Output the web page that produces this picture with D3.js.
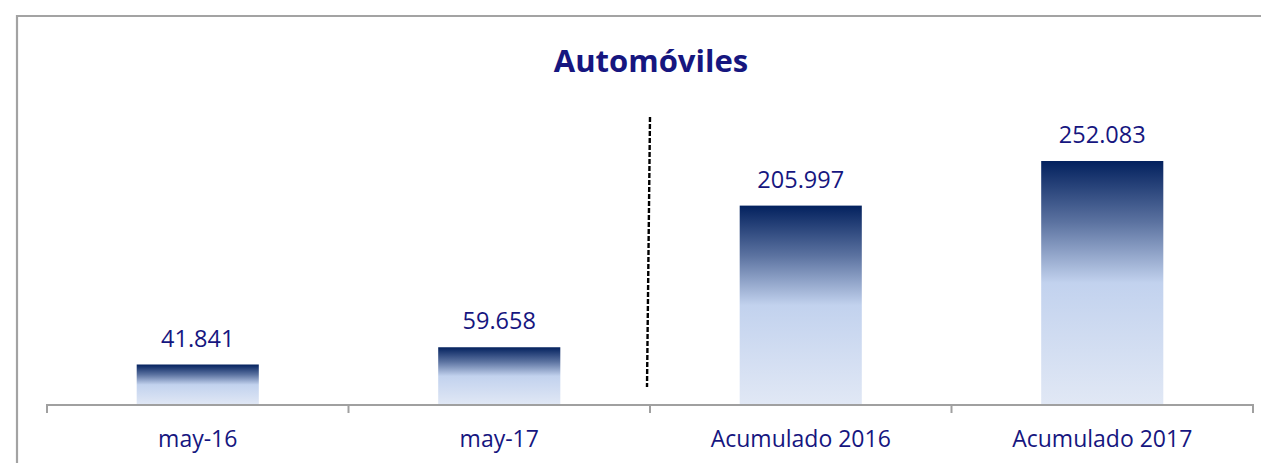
<!DOCTYPE html>
<html>
<head>
<meta charset="utf-8">
<script src="https://cdn.jsdelivr.net/npm/d3@7"></script>
<style>
html,body{margin:0;padding:0;background:#fff;}
svg{display:block;}
</style>
</head>
<body>
<svg id="chart" width="1261" height="463"></svg>
<script>
const title = "Automóviles";
const categories = ["may-16", "may-17", "Acumulado 2016", "Acumulado 2017"];
const values = [41841, 59658, 205997, 252083];
const valueLabels = ["41.841", "59.658", "205.997", "252.083"];

const svg = d3.select("#chart");
const textColor = "#16167f";
const fontFam = "'Open Sans', 'Noto Sans', sans-serif";

// frame
svg.append("path")
  .attr("d", "M17,470 L17,16 L1270,16")
  .attr("fill", "none").attr("stroke", "#a3a3a3").attr("stroke-width", 2.2);

// gradient
const defs = svg.append("defs");
const grad = defs.append("linearGradient").attr("id", "barGrad")
  .attr("x1", 0).attr("y1", 0).attr("x2", 0).attr("y2", 1);
grad.append("stop").attr("offset", "0%").attr("stop-color", "#03215e");
grad.append("stop").attr("offset", "25%").attr("stop-color", "#5b72a0");
grad.append("stop").attr("offset", "50%").attr("stop-color", "#c2d2ee");
grad.append("stop").attr("offset", "100%").attr("stop-color", "#e1e8f5");

const baseY = 405;
const x = d3.scaleBand().domain(categories).range([47, 1253])
  .paddingInner(0.595).paddingOuter(0.2975);
const pxPerUnit = 244 / 252083;
const yMax = 300000;
const y = d3.scaleLinear().domain([0, yMax]).range([baseY, baseY - yMax * pxPerUnit]);

// title
svg.append("text").attr("x", 651).attr("y", 72).attr("text-anchor", "middle")
  .attr("font-family", fontFam).attr("font-weight", "bold").attr("font-size", 31)
  .attr("fill", textColor).text(title);

// bars
svg.selectAll("rect.bar").data(values).enter().append("rect").attr("class", "bar")
  .attr("x", (d, i) => x(categories[i]))
  .attr("y", d => y(d))
  .attr("width", x.bandwidth())
  .attr("height", d => y(0) - y(d))
  .attr("fill", "url(#barGrad)");

// value labels
svg.selectAll("text.val").data(values).enter().append("text").attr("class", "val")
  .attr("x", (d, i) => x(categories[i]) + x.bandwidth() / 2)
  .attr("y", d => y(d) - 18)
  .attr("text-anchor", "middle")
  .attr("font-family", fontFam).attr("font-size", 23.5)
  .attr("fill", textColor).text((d, i) => valueLabels[i]);

// axis
const axisG = svg.append("g").attr("transform", `translate(0,${baseY})`);
axisG.append("line").attr("x1", 46).attr("x2", 1254).attr("y1", 0).attr("y2", 0)
  .attr("stroke", "#a0a0a0").attr("stroke-width", 2);
const bounds = categories.map(c => x(c) + x.bandwidth() / 2 - x.step() / 2);
bounds.push(x(categories[categories.length - 1]) + x.bandwidth() / 2 + x.step() / 2);
axisG.selectAll("line.tick").data(bounds).enter().append("line").attr("class", "tick")
  .attr("x1", d => d).attr("x2", d => d).attr("y1", 0).attr("y2", 8)
  .attr("stroke", "#a0a0a0").attr("stroke-width", 2);

// category labels
svg.selectAll("text.cat").data(categories).enter().append("text").attr("class", "cat")
  .attr("x", d => x(d) + x.bandwidth() / 2)
  .attr("y", 447)
  .attr("text-anchor", "middle")
  .attr("font-family", fontFam).attr("font-size", 23)
  .attr("fill", textColor).text(d => d);

// dashed separator
svg.append("line").attr("x1", 650).attr("y1", 117).attr("x2", 647).attr("y2", 387)
  .attr("stroke", "#000").attr("stroke-width", 2.4).attr("stroke-dasharray", "5,2");
</script>
</body>
</html>
